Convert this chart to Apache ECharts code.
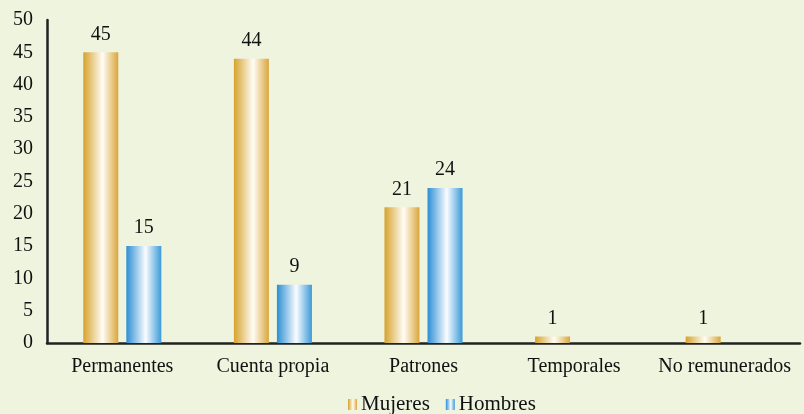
<!DOCTYPE html>
<html><head><meta charset="utf-8">
<script src="https://cdn.jsdelivr.net/npm/echarts@6/dist/echarts.min.js"></script>
<style>html,body{margin:0;padding:0;background:#EFF4DF;}#c{width:804px;height:414px;}</style>
</head><body><div id="c"></div>
<script>
const categories = ['Permanentes','Cuenta propia','Patrones','Temporales','No remunerados'];
const mujeres = [45, 44, 21, 1, 1];
const hombres = [15, 9, 24, null, null];
const yTicks = {min: 0, max: 50, interval: 5};

function grad(edgeL, mid, edgeR){
  return new echarts.graphic.LinearGradient(0,0,1,0,[
    {offset:0,color:edgeL},{offset:0.55,color:mid},{offset:1,color:edgeR}
  ]);
}
const gold = grad('#D6A22C','#FFFDF6','#DAA63C');
const blue = grad('#2C8ED4','#FAFCFF','#3A9AD8');
const font = '"Liberation Serif", "Times New Roman", serif';

const chart = echarts.init(document.getElementById('c'));
chart.setOption({
  backgroundColor:'#EFF4DF',
  animation:false,
  textStyle:{fontFamily:font},
  grid:{left:47,right:4,top:20,bottom:71,containLabel:false},
  legend:{
    bottom:-6,left:343,icon:'rect',itemWidth:9,itemHeight:11,itemGap:16,
    textStyle:{fontFamily:font,fontSize:21,color:'#111',padding:[0,0,0,-1]},
    data:[{name:'Mujeres',itemStyle:{color:gold}},{name:'Hombres',itemStyle:{color:blue}}]
  },
  xAxis:{
    type:'category',data:categories,
    axisLine:{lineStyle:{color:'#222',width:2.5}},
    axisTick:{show:false},
    axisLabel:{interval:0,fontFamily:font,fontSize:20,color:'#111',margin:14}
  },
  yAxis:{
    type:'value',min:yTicks.min,max:yTicks.max,interval:yTicks.interval,
    axisLine:{show:true,lineStyle:{color:'#222',width:2.5}},
    axisTick:{show:false},
    splitLine:{show:false},
    axisLabel:{fontFamily:font,fontSize:20,color:'#111',margin:14}
  },
  series:[
    {name:'Mujeres',type:'bar',data:mujeres,barWidth:35,barGap:'23%',
     itemStyle:{color:gold},
     label:{show:true,position:'top',distance:8,fontFamily:font,fontSize:20,color:'#111'}},
    {name:'Hombres',type:'bar',data:hombres,barWidth:35,
     itemStyle:{color:blue},
     label:{show:true,position:'top',distance:8,fontFamily:font,fontSize:20,color:'#111'}}
  ]
});
</script></body></html>
